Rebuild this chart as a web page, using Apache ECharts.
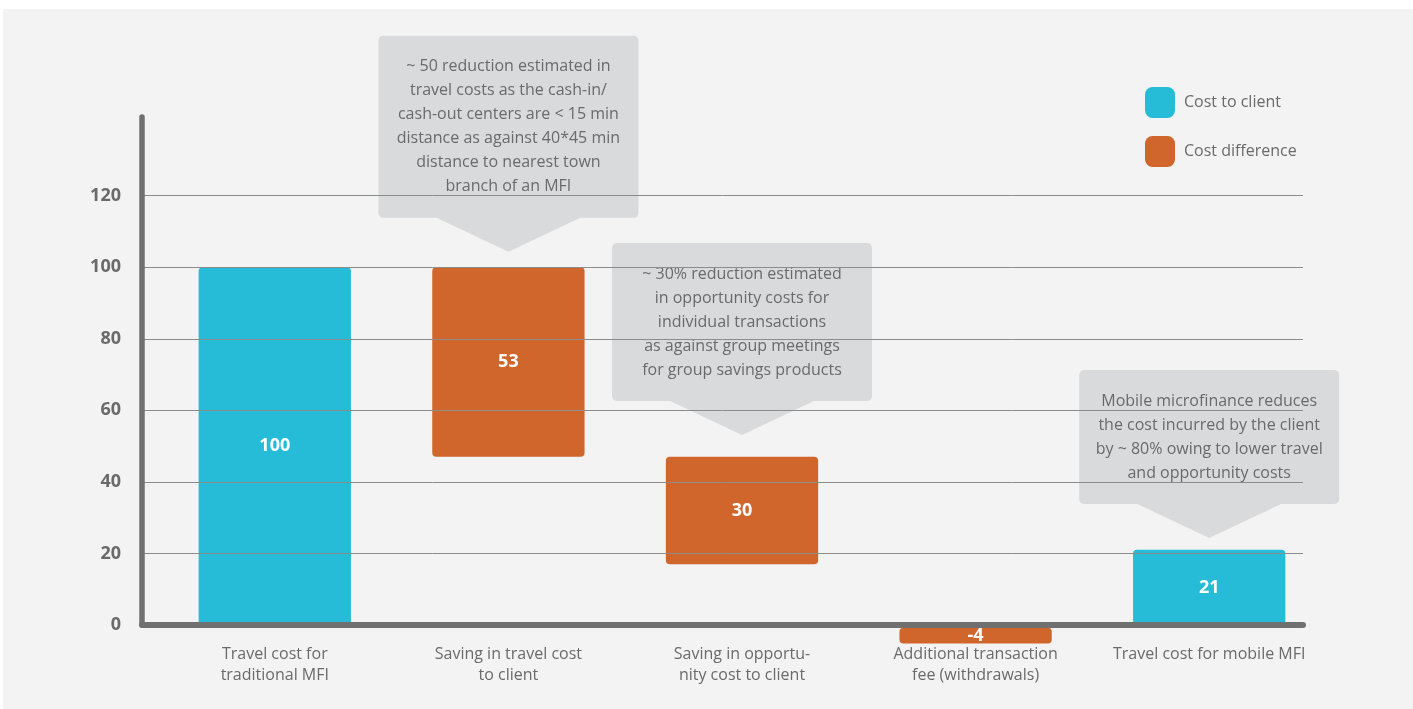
<!DOCTYPE html>
<html>
<head>
<meta charset="utf-8">
<script src="https://cdn.jsdelivr.net/npm/echarts@6/dist/echarts.min.js"></script>
<style>
html,body{margin:0;padding:0;background:#ffffff;width:1413px;height:709px;overflow:hidden}
#panel{position:absolute;left:3px;top:9px;width:1410px;height:700px;background:#f3f3f3}
#chart{position:absolute;left:0;top:0;width:1413px;height:709px}
</style>
</head>
<body>
<div id="panel"></div>
<div id="chart"></div>
<script>
// ---- data ----
const categories = [
  'Travel cost for\ntraditional MFI',
  'Saving in travel cost\nto client',
  'Saving in opportu-\nnity cost to client',
  'Additional transaction\nfee (withdrawals)',
  'Travel cost for mobile MFI'
];
const barLow  = [0, 47, 17, -5.2, 0];
const barHigh = [100, 100, 47, -0.8, 21];
const barLabels = ['100', '53', '30', '-4', '21'];
const barKind = ['Cost to client', 'Cost difference', 'Cost difference', 'Cost difference', 'Cost to client'];
const seriesNames = ['Cost to client', 'Cost difference'];
const yTicks = [0, 20, 40, 60, 80, 100, 120];
const calloutCategory = [1, 2, 4];
const calloutTip = [104.3, 53.1, 24.3];
const calloutText = [
  '~ 50 reduction estimated in\ntravel costs as the cash-in/\ncash-out centers are < 15 min\ndistance as against 40*45 min\ndistance to nearest town\nbranch of an MFI',
  '~ 30% reduction estimated\nin opportunity costs for\nindividual transactions\nas against group meetings\nfor group savings products',
  'Mobile microfinance reduces\nthe cost incurred by the client\nby ~ 80% owing to lower travel\nand opportunity costs'
];

// ---- styles ----
const COLORS = {'Cost to client': '#26bbd6', 'Cost difference': '#d0662c'};
const FONT = '"Open Sans", "Noto Sans", sans-serif';
const TEXT = '#6a6a6a';
const AXIS = '#707070';

const chart = echarts.init(document.getElementById('chart'), null, {renderer: 'canvas'});

function renderBar(params, api) {
  const i = api.value(0);
  const lo = api.value(1), hi = api.value(2);
  const pTop = api.coord([i, hi]);
  const pBot = api.coord([i, lo]);
  const w = api.size([1, 0])[0] * 0.652;
  return {
    type: 'rect',
    shape: {x: pTop[0] - w / 2, y: pTop[1], width: w, height: pBot[1] - pTop[1], r: 4},
    style: {fill: api.visual('color')},
    textContent: {
      style: {text: barLabels[i], fill: '#ffffff', font: 'bold 18px ' + FONT}
    },
    textConfig: {position: 'inside'}
  };
}

function renderCallout(params, api) {
  const idx = params.dataIndex;
  const tip = api.coord([api.value(0), api.value(1)]);
  const text = calloutText[idx];
  const lines = text.split('\n').length;
  const boxW = 260, lineH = 24, padV = 19, triH = 34, triW = 148;
  const boxH = lines * lineH + 2 * padV;
  const boxBottom = tip[1] - triH;
  const boxTop = boxBottom - boxH;
  const fill = '#d9dadb';
  return {
    type: 'group',
    children: [
      {type: 'rect', shape: {x: tip[0] - boxW / 2, y: boxTop, width: boxW, height: boxH, r: 5}, style: {fill: fill}},
      {type: 'polygon', shape: {points: [[tip[0] - triW / 2, boxBottom - 1], [tip[0] + triW / 2, boxBottom - 1], [tip[0], tip[1]]]}, style: {fill: fill}},
      {type: 'text', x: tip[0], y: boxTop + boxH / 2,
        style: {text: text, align: 'center', verticalAlign: 'middle', lineHeight: lineH, font: '16px ' + FONT, fill: TEXT}}
    ]
  };
}

const barSeries = seriesNames.map(name => ({
  name: name,
  type: 'custom',
  xAxisIndex: 0, yAxisIndex: 0,
  renderItem: renderBar,
  itemStyle: {color: COLORS[name]},
  encode: {x: 0, y: [1, 2]},
  data: categories.map((c, i) => i).filter(i => barKind[i] === name).map(i => [i, barLow[i], barHigh[i]]),
  z: 3
}));

const option = {
  animation: false,
  backgroundColor: 'transparent',
  textStyle: {fontFamily: FONT},
  legend: {
    data: seriesNames,
    orient: 'vertical',
    left: 1145, top: 87,
    itemWidth: 30, itemHeight: 31, itemGap: 18,
    icon: 'roundRect',
    padding: 0,
    textStyle: {fontSize: 16, color: TEXT, fontFamily: FONT, padding: [0, 0, 0, 4]}
  },
  grid: [
    {left: 158, right: 87, top: 117, bottom: 84},
    {left: 142, right: 110, top: 117, bottom: 84}
  ],
  xAxis: [
    {
      type: 'category', gridIndex: 0, data: categories,
      axisLine: {show: false}, axisTick: {show: false},
      axisLabel: {margin: 19, fontSize: 16, lineHeight: 21, color: TEXT, fontFamily: FONT, interval: 0}
    },
    {
      type: 'category', gridIndex: 1, data: [''], z: 10,
      axisLine: {show: true, lineStyle: {color: AXIS, width: 6, cap: 'round'}},
      axisTick: {show: false}, axisLabel: {show: false}
    }
  ],
  yAxis: [
    {type: 'value', gridIndex: 0, min: 0, max: 142, interval: 20, show: false},
    {
      type: 'value', gridIndex: 1, min: 0, max: 142, interval: 20, z: 10,
      axisLine: {show: true, lineStyle: {color: AXIS, width: 5.5, cap: 'round'}},
      axisTick: {show: false},
      splitLine: {show: false},
      axisLabel: {
        margin: 21, fontSize: 18, fontWeight: 'bold', color: TEXT, fontFamily: FONT,
        formatter: v => (yTicks.indexOf(v) >= 0 ? String(v) : '')
      }
    }
  ],
  series: [
    {
      type: 'line', xAxisIndex: 1, yAxisIndex: 1, data: [], silent: true,
      markLine: {
        silent: true, symbol: 'none', label: {show: false},
        lineStyle: {color: '#8c8c8c', width: 1, type: 'solid'},
        data: yTicks.filter(v => v > 0).map(v => ({yAxis: v}))
      }
    },
    ...barSeries,
    {
      type: 'custom', xAxisIndex: 0, yAxisIndex: 0,
      renderItem: renderCallout,
      encode: {x: 0, y: 1},
      data: calloutCategory.map((c, k) => [c, calloutTip[k]]),
      silent: true, z: 4
    }
  ]
};
chart.setOption(option);
</script>
</body>
</html>
